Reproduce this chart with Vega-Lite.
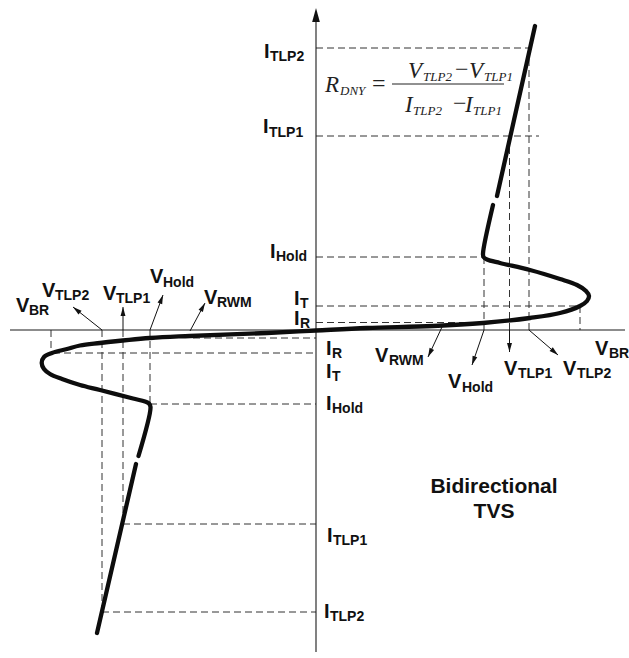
{
  "$schema": "https://vega.github.io/schema/vega-lite/v6.json",
  "width": 629,
  "height": 658,
  "padding": 0,
  "autosize": {"type": "none"},
  "background": "white",
  "config": {"view": {"stroke": null}},
  "datasets": {
    "curve": [
      {"seg": "A", "o": 1, "x": -21.9, "y": -30.3},
      {"seg": "A", "o": 2, "x": -18.0, "y": -13.4},
      {"seg": "B", "o": 1, "x": -17.75, "y": -12.6},
      {"seg": "B", "o": 2, "x": -16.55, "y": -7.7},
      {"seg": "B", "o": 3, "x": -16.7, "y": -7.35},
      {"seg": "B", "o": 4, "x": -17.1, "y": -7.15},
      {"seg": "B", "o": 5, "x": -18.3, "y": -6.85},
      {"seg": "B", "o": 6, "x": -21.6, "y": -6.0},
      {"seg": "B", "o": 7, "x": -23.6, "y": -5.5},
      {"seg": "B", "o": 8, "x": -25.4, "y": -4.9},
      {"seg": "B", "o": 9, "x": -26.6, "y": -4.4},
      {"seg": "B", "o": 10, "x": -27.2, "y": -3.9},
      {"seg": "B", "o": 11, "x": -27.43, "y": -3.3},
      {"seg": "B", "o": 12, "x": -27.2, "y": -2.7},
      {"seg": "B", "o": 13, "x": -26.4, "y": -2.3},
      {"seg": "B", "o": 14, "x": -24.9, "y": -1.9},
      {"seg": "B", "o": 15, "x": -23.6, "y": -1.55},
      {"seg": "B", "o": 16, "x": -21.6, "y": -1.3},
      {"seg": "B", "o": 17, "x": -16.6, "y": -0.8},
      {"seg": "B", "o": 18, "x": -12.6, "y": -0.6},
      {"seg": "B", "o": 19, "x": -4.9, "y": -0.3},
      {"seg": "B", "o": 20, "x": 0, "y": -0.05},
      {"seg": "B", "o": 21, "x": 5.1, "y": 0.2},
      {"seg": "B", "o": 22, "x": 11.7, "y": 0.4},
      {"seg": "B", "o": 23, "x": 16.7, "y": 0.7},
      {"seg": "B", "o": 24, "x": 21.4, "y": 1.2},
      {"seg": "B", "o": 25, "x": 24.4, "y": 1.7},
      {"seg": "B", "o": 26, "x": 26.4, "y": 2.4},
      {"seg": "B", "o": 27, "x": 27.1, "y": 2.9},
      {"seg": "B", "o": 28, "x": 27.3, "y": 3.4},
      {"seg": "B", "o": 29, "x": 27.0, "y": 3.9},
      {"seg": "B", "o": 30, "x": 26.1, "y": 4.5},
      {"seg": "B", "o": 31, "x": 24.4, "y": 5.1},
      {"seg": "B", "o": 32, "x": 21.4, "y": 6.0},
      {"seg": "B", "o": 33, "x": 18.4, "y": 6.7},
      {"seg": "B", "o": 34, "x": 17.1, "y": 7.05},
      {"seg": "B", "o": 35, "x": 16.75, "y": 7.3},
      {"seg": "B", "o": 36, "x": 16.7, "y": 7.65},
      {"seg": "B", "o": 37, "x": 17.7, "y": 12.5},
      {"seg": "C", "o": 1, "x": 18.1, "y": 13.4},
      {"seg": "C", "o": 2, "x": 21.9, "y": 30.4}
    ],
    "guides": [
      {"name": "I_TLP2 up", "x": 0, "y": 28.2, "x0": 21.5, "y0": 28.2},
      {"name": "I_TLP1 up", "x": 0, "y": 19.4, "x0": 22.3, "y0": 19.4},
      {"name": "I_Hold up", "x": 0, "y": 7.3, "x0": 16.7, "y0": 7.3},
      {"name": "I_T up", "x": 0, "y": 2.4, "x0": 26.4, "y0": 2.4},
      {"name": "I_R up", "x": 0, "y": 0.75, "x0": 16.9, "y0": 0.75},
      {"name": "I_R low", "x": -12.3, "y": -0.8, "x0": 0, "y0": -0.8},
      {"name": "I_T low", "x": -26.3, "y": -2.3, "x0": 0, "y0": -2.3},
      {"name": "I_Hold low", "x": -16.6, "y": -7.4, "x0": 0, "y0": -7.4},
      {"name": "I_TLP1 low", "x": -19.3, "y": -19.4, "x0": 0, "y0": -19.4},
      {"name": "I_TLP2 low", "x": -21.4, "y": -28.2, "x0": 0, "y0": -28.2},
      {"name": "V_TLP2 up", "x": 21.3, "y": 28.2, "x0": 21.3, "y0": 0},
      {"name": "V_TLP1 up", "x": 19.35, "y": 19.4, "x0": 19.35, "y0": 0},
      {"name": "V_Hold up", "x": 16.8, "y": 7.3, "x0": 16.8, "y0": 0},
      {"name": "V_BR up", "x": 26.4, "y": 2.4, "x0": 26.4, "y0": 0},
      {"name": "V_BR low", "x": -26.5, "y": 0, "x0": -26.5, "y0": -2.3},
      {"name": "V_TLP2 low", "x": -21.4, "y": 0, "x0": -21.4, "y0": -28.2},
      {"name": "V_TLP1 low", "x": -19.3, "y": 0, "x0": -19.3, "y0": -19.4},
      {"name": "V_Hold low", "x": -16.6, "y": 0, "x0": -16.6, "y0": -7.4}
    ],
    "axes": [
      {"name": "V axis", "x": -30.6, "y": 0, "x0": 30.9, "y0": 0},
      {"name": "I axis", "x": 0, "y": -32.2, "x0": 0, "y0": 31.0}
    ],
    "arrows": [
      {"kind": "label", "name": "V_TLP2 left", "x0": -21.4, "y0": 0, "x": -24.3, "y": 2.3},
      {"kind": "label", "name": "V_TLP1 left", "x0": -19.3, "y0": 0, "x": -19.3, "y": 2.3},
      {"kind": "label", "name": "V_Hold left", "x0": -16.6, "y0": 0, "x": -15.3, "y": 3.5},
      {"kind": "label", "name": "V_RWM left", "x0": -12.6, "y0": -0.1, "x": -11.1, "y": 2.7},
      {"kind": "label", "name": "V_RWM right", "x0": 12.6, "y0": 0.3, "x": 11.2, "y": -2.7},
      {"kind": "label", "name": "V_Hold right", "x0": 16.8, "y0": 0, "x": 15.6, "y": -3.5},
      {"kind": "label", "name": "V_TLP1 right", "x0": 19.35, "y0": 0, "x": 19.35, "y": -2.2},
      {"kind": "label", "name": "V_TLP2 right", "x0": 21.3, "y0": 0, "x": 24.2, "y": -2.5},
      {"kind": "axis", "name": "I axis head", "x0": 0, "y0": 0, "x": 0, "y": 32.2}
    ],
    "mainText": [
      {"t": "I", "x": -5.2, "y": 27.2},
      {"t": "I", "x": -5.3, "y": 19.7},
      {"t": "I", "x": -4.6, "y": 7.2},
      {"t": "I", "x": -2.2, "y": 2.5},
      {"t": "I", "x": -2.2, "y": 0.5},
      {"t": "I", "x": 1.0, "y": -2.5},
      {"t": "I", "x": 1.0, "y": -4.8},
      {"t": "I", "x": 1.0, "y": -8.0},
      {"t": "I", "x": 1.1, "y": -21.2},
      {"t": "I", "x": 0.8, "y": -28.8},
      {"t": "V", "x": -30.0, "y": 1.8},
      {"t": "V", "x": -27.4, "y": 3.3},
      {"t": "V", "x": -21.3, "y": 3.0},
      {"t": "V", "x": -16.6, "y": 4.7},
      {"t": "V", "x": -11.2, "y": 2.6},
      {"t": "V", "x": 5.9, "y": -3.2},
      {"t": "V", "x": 13.2, "y": -5.8},
      {"t": "V", "x": 18.8, "y": -4.5},
      {"t": "V", "x": 24.7, "y": -4.5},
      {"t": "V", "x": 27.9, "y": -2.5}
    ],
    "subText": [
      {"t": "TLP2", "x": -4.6, "y": 26.9},
      {"t": "TLP1", "x": -4.7, "y": 19.3},
      {"t": "Hold", "x": -4.0, "y": 6.9},
      {"t": "T", "x": -1.6, "y": 2.2},
      {"t": "R", "x": -1.6, "y": 0.2},
      {"t": "R", "x": 1.6, "y": -2.8},
      {"t": "T", "x": 1.6, "y": -5.1},
      {"t": "Hold", "x": 1.6, "y": -8.3},
      {"t": "TLP1", "x": 1.7, "y": -21.5},
      {"t": "TLP2", "x": 1.4, "y": -29.1},
      {"t": "BR", "x": -28.7, "y": 1.5},
      {"t": "TLP2", "x": -26.1, "y": 3.0},
      {"t": "TLP1", "x": -20.0, "y": 2.7},
      {"t": "Hold", "x": -15.3, "y": 4.3},
      {"t": "RWM", "x": -9.9, "y": 2.3},
      {"t": "RWM", "x": 7.3, "y": -3.5},
      {"t": "Hold", "x": 14.6, "y": -6.2},
      {"t": "TLP1", "x": 20.2, "y": -4.8},
      {"t": "TLP2", "x": 26.1, "y": -4.8},
      {"t": "BR", "x": 29.3, "y": -2.8}
    ],
    "titleText": [
      {"t": "Bidirectional", "x": 17.8, "y": -16.3},
      {"t": "TVS", "x": 17.8, "y": -18.8}
    ],
    "formulaMain": [
      {"t": "R", "x": 0.9, "y": 23.8},
      {"t": "V", "x": 9.2, "y": 25.2},
      {"t": "V", "x": 15.3, "y": 25.2},
      {"t": "I", "x": 8.9, "y": 21.8},
      {"t": "I", "x": 14.9, "y": 21.8}
    ],
    "formulaSub": [
      {"t": "DNY", "x": 2.4, "y": 23.5},
      {"t": "TLP2", "x": 10.7, "y": 24.9},
      {"t": "TLP1", "x": 16.8, "y": 24.9},
      {"t": "TLP2", "x": 9.7, "y": 21.5},
      {"t": "TLP1", "x": 15.7, "y": 21.5}
    ],
    "formulaOp": [
      {"t": "=", "x": 5.6, "y": 23.9},
      {"t": "−", "x": 13.9, "y": 25.3},
      {"t": "−", "x": 13.7, "y": 21.9}
    ],
    "fraction": [
      {"x": 7.6, "x0": 18.8, "y": 24.6}
    ]
  },
  "encoding": {
    "x": {"field": "x", "type": "quantitative", "scale": {"domain": [-31.6, 31.3], "nice": false, "zero": false}, "axis": null},
    "y": {"field": "y", "type": "quantitative", "scale": {"domain": [-32.8, 33.0], "nice": false, "zero": false}, "axis": null}
  },
  "layer": [
    {
      "data": {"name": "guides"},
      "mark": {"type": "rule", "strokeDash": [7, 4], "color": "#333333", "strokeWidth": 1},
      "encoding": {"x2": {"field": "x0"}, "y2": {"field": "y0"}}
    },
    {
      "data": {"name": "axes"},
      "mark": {"type": "rule", "color": "#1a1a1a", "strokeWidth": 1.1},
      "encoding": {"x2": {"field": "x0"}, "y2": {"field": "y0"}}
    },
    {
      "data": {"name": "arrows"},
      "transform": [{"filter": "datum.kind === 'label'"}],
      "mark": {"type": "rule", "color": "#111111", "strokeWidth": 1},
      "encoding": {"x2": {"field": "x0"}, "y2": {"field": "y0"}}
    },
    {
      "data": {"name": "arrows"},
      "transform": [
        {"filter": "datum.kind === 'label'"},
        {"calculate": "atan2(datum.x - datum.x0, datum.y - datum.y0) * 180 / PI", "as": "ang"}
      ],
      "mark": {"type": "point", "shape": "M0,0L-0.55,2L0.55,2Z", "filled": true, "color": "#111111", "opacity": 1, "size": 81, "strokeWidth": 0},
      "encoding": {"angle": {"field": "ang", "type": "quantitative", "scale": null}}
    },
    {
      "data": {"name": "arrows"},
      "transform": [
        {"filter": "datum.kind === 'axis'"},
        {"calculate": "atan2(datum.x - datum.x0, datum.y - datum.y0) * 180 / PI", "as": "ang"}
      ],
      "mark": {"type": "point", "shape": "M0,0L-0.55,2L0.55,2Z", "filled": true, "color": "#111111", "opacity": 1, "size": 196, "strokeWidth": 0},
      "encoding": {"angle": {"field": "ang", "type": "quantitative", "scale": null}}
    },
    {
      "data": {"name": "curve"},
      "mark": {"type": "line", "color": "#0d0d0d", "strokeWidth": 4.3, "strokeCap": "round", "strokeJoin": "round", "interpolate": "catmull-rom"},
      "encoding": {
        "detail": {"field": "seg", "type": "nominal"},
        "order": {"field": "o", "type": "quantitative"}
      }
    },
    {
      "data": {"name": "fraction"},
      "mark": {"type": "rule", "color": "#222222", "strokeWidth": 1},
      "encoding": {"x2": {"field": "x0"}}
    },
    {
      "data": {"name": "mainText"},
      "mark": {"type": "text", "font": "Liberation Sans", "fontWeight": "bold", "fontSize": 20, "align": "left", "baseline": "alphabetic", "color": "#111111"},
      "encoding": {"text": {"field": "t", "type": "nominal"}}
    },
    {
      "data": {"name": "subText"},
      "mark": {"type": "text", "font": "Liberation Sans", "fontWeight": "bold", "fontSize": 14, "align": "left", "baseline": "alphabetic", "color": "#111111"},
      "encoding": {"text": {"field": "t", "type": "nominal"}}
    },
    {
      "data": {"name": "titleText"},
      "mark": {"type": "text", "font": "Liberation Sans", "fontWeight": "bold", "fontSize": 21, "align": "center", "baseline": "alphabetic", "color": "#111111"},
      "encoding": {"text": {"field": "t", "type": "nominal"}}
    },
    {
      "data": {"name": "formulaMain"},
      "mark": {"type": "text", "font": "Liberation Serif", "fontStyle": "italic", "fontSize": 23, "align": "left", "baseline": "alphabetic", "color": "#222222"},
      "encoding": {"text": {"field": "t", "type": "nominal"}}
    },
    {
      "data": {"name": "formulaSub"},
      "mark": {"type": "text", "font": "Liberation Serif", "fontStyle": "italic", "fontSize": 13, "align": "left", "baseline": "alphabetic", "color": "#222222"},
      "encoding": {"text": {"field": "t", "type": "nominal"}}
    },
    {
      "data": {"name": "formulaOp"},
      "mark": {"type": "text", "font": "Liberation Serif", "fontSize": 24, "align": "left", "baseline": "alphabetic", "color": "#222222"},
      "encoding": {"text": {"field": "t", "type": "nominal"}}
    }
  ]
}
